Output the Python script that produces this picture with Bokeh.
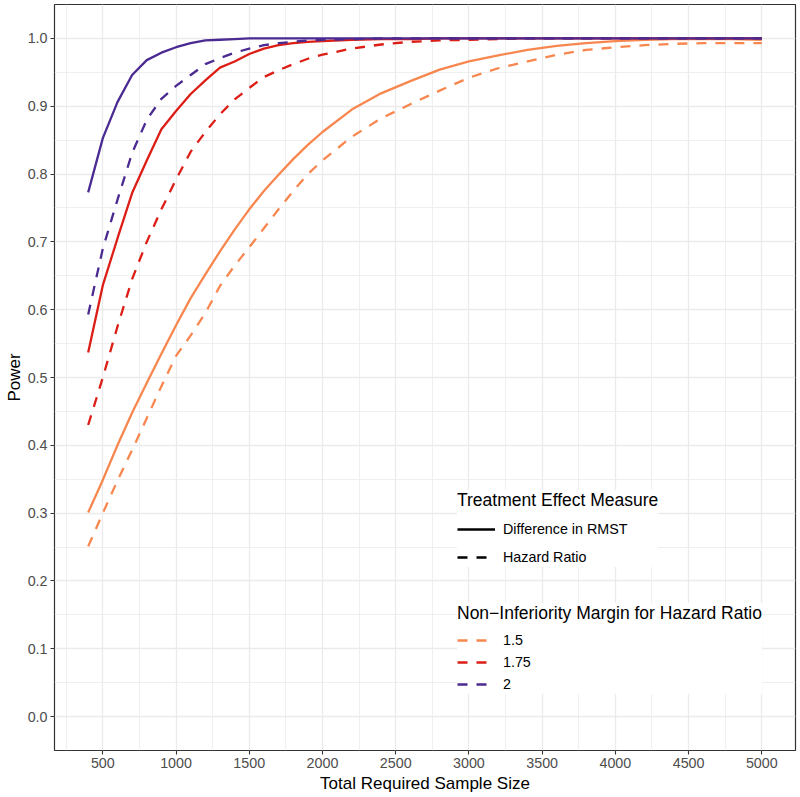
from bokeh.plotting import figure
from bokeh.models import Range1d, FixedTicker, PrintfTickFormatter, Legend, LegendItem
from bokeh.embed import file_html
from bokeh.resources import INLINE

# ---- data ----
sample_size = [400, 500, 600, 700, 800, 900, 1000, 1100, 1200, 1300, 1400, 1500, 1600,
               1700, 1800, 1900, 2000, 2200, 2400, 2600, 2800, 3000, 3200, 3400, 3600,
               3800, 4000, 4200, 4400, 4600, 4800, 5000]

# Difference in RMST (solid)
rmst_15 = [0.301, 0.349, 0.400, 0.448, 0.492, 0.535, 0.577, 0.617, 0.652, 0.686, 0.718,
           0.748, 0.775, 0.799, 0.822, 0.843, 0.862, 0.895, 0.919, 0.937, 0.954, 0.966,
           0.975, 0.983, 0.989, 0.993, 0.996, 0.998, 0.999, 0.999, 0.999, 0.998]
rmst_175 = [0.537, 0.636, 0.705, 0.772, 0.820, 0.866, 0.893, 0.918, 0.938, 0.957, 0.966,
            0.977, 0.985, 0.990, 0.993, 0.995, 0.996, 0.998, 0.999, 0.999, 1.0, 1.0,
            1.0, 1.0, 1.0, 1.0, 1.0, 1.0, 1.0, 1.0, 1.0, 1.0]
rmst_2 = [0.773, 0.853, 0.906, 0.946, 0.968, 0.979, 0.987, 0.993, 0.997, 0.998, 0.999,
          1.0, 1.0, 1.0, 1.0, 1.0, 1.0, 1.0, 1.0, 1.0, 1.0, 1.0, 1.0, 1.0, 1.0, 1.0,
          1.0, 1.0, 1.0, 1.0, 1.0, 1.0]

# Hazard Ratio (dashed)
hr_15 = [0.251, 0.300, 0.348, 0.393, 0.440, 0.487, 0.532, 0.562, 0.595, 0.635, 0.665,
         0.692, 0.720, 0.748, 0.775, 0.800, 0.820, 0.855, 0.882, 0.903, 0.923, 0.942,
         0.956, 0.966, 0.976, 0.983, 0.987, 0.990, 0.992, 0.993, 0.993, 0.993]
hr_175 = [0.430, 0.500, 0.575, 0.645, 0.700, 0.748, 0.792, 0.833, 0.862, 0.888, 0.910,
          0.927, 0.943, 0.953, 0.962, 0.970, 0.976, 0.985, 0.991, 0.995, 0.997, 0.998,
          0.999, 1.0, 1.0, 1.0, 1.0, 1.0, 1.0, 1.0, 1.0, 1.0]
hr_2 = [0.593, 0.690, 0.762, 0.831, 0.880, 0.911, 0.930, 0.946, 0.962, 0.971, 0.979,
        0.985, 0.990, 0.993, 0.995, 0.997, 0.998, 0.999, 1.0, 1.0, 1.0, 1.0, 1.0, 1.0,
        1.0, 1.0, 1.0, 1.0, 1.0, 1.0, 1.0, 1.0]

margin_labels = ["1.5", "1.75", "2"]
measure_labels = ["Difference in RMST", "Hazard Ratio"]
x_ticks = [500, 1000, 1500, 2000, 2500, 3000, 3500, 4000, 4500, 5000]
x_minor = [250, 750, 1250, 1750, 2250, 2750, 3250, 3750, 4250, 4750, 5250]
y_ticks = [0.0, 0.1, 0.2, 0.3, 0.4, 0.5, 0.6, 0.7, 0.8, 0.9, 1.0]
y_minor = [-0.05, 0.05, 0.15, 0.25, 0.35, 0.45, 0.55, 0.65, 0.75, 0.85, 0.95, 1.05]

colors = ["#F8874F", "#DC1E16", "#4B2A91"]
FONT = "Liberation Sans"
LW = 2.3
DASH = "10 9"
NAN = float("nan")

p = figure(width=800, height=797, output_backend="svg", toolbar_location=None,
           x_range=Range1d(170, 5230), y_range=Range1d(-0.05, 1.05),
           min_border_left=54, min_border_right=5, min_border_top=4, min_border_bottom=47)
p.background_fill_color = "white"
p.border_fill_color = "white"
p.outline_line_color = "#333333"
p.outline_line_width = 1.2

p.xaxis.ticker = FixedTicker(ticks=x_ticks, minor_ticks=x_minor)
p.yaxis.ticker = FixedTicker(ticks=y_ticks, minor_ticks=y_minor)
p.yaxis.formatter = PrintfTickFormatter(format="%.1f")

for ax in (p.xaxis, p.yaxis):
    ax.axis_line_color = None
    ax.major_tick_line_color = "#333333"
    ax.major_tick_line_width = 1.1
    ax.major_tick_out = 4
    ax.major_tick_in = 0
    ax.minor_tick_line_color = None
    ax.major_label_text_font = FONT
    ax.major_label_text_font_size = "14.3px"
    ax.major_label_text_color = "#4D4D4D"
    ax.major_label_standoff = 3
    ax.axis_label_text_font = FONT
    ax.axis_label_text_font_size = "17px"
    ax.axis_label_text_font_style = "normal"
    ax.axis_label_text_color = "black"

p.xaxis.axis_label_standoff = 3
p.yaxis.axis_label_standoff = 1
p.xaxis.axis_label = "Total Required Sample Size"
p.yaxis.axis_label = "Power"

for g in (p.xgrid, p.ygrid):
    g.grid_line_color = "#EBEBEB"
    g.grid_line_width = 1.3
    g.minor_grid_line_color = "#EBEBEB"
    g.minor_grid_line_width = 0.8

solid_series = [rmst_15, rmst_175, rmst_2]
dashed_series = [hr_15, hr_175, hr_2]
dashed_renderers = []
for i in range(3):
    p.line(sample_size, solid_series[i], line_color=colors[i], line_width=LW)
    r = p.line(sample_size, dashed_series[i], line_color=colors[i], line_width=LW,
               line_dash=DASH)
    dashed_renderers.append(r)

# key-only renderers (no visible data) for the linetype legend
solid_key = p.line(x=[NAN, NAN], y=[NAN, NAN], line_color="black", line_width=LW)
dash_key = p.line(x=[NAN, NAN], y=[NAN, NAN], line_color="black", line_width=LW,
                  line_dash=DASH)


def style_legend(lg, spacing, title_standoff):
    lg.title_text_font = FONT
    lg.title_text_font_size = "17.5px"
    lg.title_text_font_style = "normal"
    lg.title_text_color = "black"
    lg.label_text_font = FONT
    lg.label_text_font_size = "14.3px"
    lg.label_text_color = "black"
    lg.glyph_width = 38
    lg.glyph_height = 20
    lg.label_height = 20
    lg.label_standoff = 8
    lg.spacing = spacing
    lg.padding = 10
    lg.margin = 0
    lg.title_standoff = title_standoff
    lg.background_fill_color = "white"
    lg.background_fill_alpha = 1.0
    lg.border_line_color = None


legend1 = Legend(items=[LegendItem(label=measure_labels[0], renderers=[solid_key]),
                        LegendItem(label=measure_labels[1], renderers=[dash_key])],
                 title="Treatment Effect Measure", location=(403, 183))
style_legend(legend1, 8, 8)

legend2 = Legend(items=[LegendItem(label=margin_labels[i], renderers=[dashed_renderers[i]])
                        for i in range(3)],
                 title="Non\u2212Inferiority Margin for Hazard Ratio", location=(403, 56))
style_legend(legend2, 2, 6)

p.add_layout(legend1, "center")
p.add_layout(legend2, "center")

open("out.html", "w").write(file_html(p, INLINE))
